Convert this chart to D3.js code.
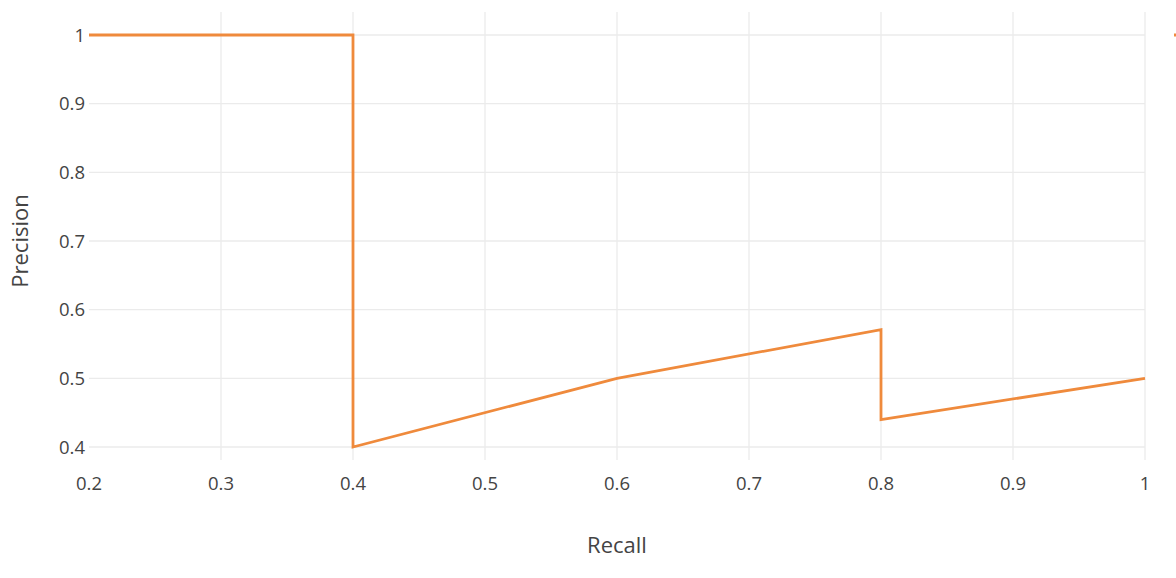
<!DOCTYPE html>
<html><head><meta charset="utf-8">
<script src="https://cdn.jsdelivr.net/npm/d3@7"></script>
<style>body{margin:0;background:#fff;overflow:hidden}svg{display:block}text{font-family:"Open Sans",sans-serif;fill:#444}</style>
</head><body>
<svg id="c" width="1176" height="578"></svg>
<script>
const recall = [0.2, 0.4, 0.4, 0.6, 0.8, 0.8, 1.0];
const precision = [1, 1, 0.4, 0.5, 0.571, 0.44, 0.5];
const xTicks = [0.2, 0.3, 0.4, 0.5, 0.6, 0.7, 0.8, 0.9, 1];
const yTicks = [0.4, 0.5, 0.6, 0.7, 0.8, 0.9, 1];
const xLabel = "Recall", yLabel = "Precision";

const svg = d3.select("#c");
const L = 89, R = 1145;
const x = d3.scaleLinear().domain([0.2, 1]).range([L, R]);
const y = d3.scaleLinear().domain([0.4, 1]).range([447, 35]);
const plotTop = 12, plotBot = 460;

const g = svg.append("g");
g.selectAll(".vg").data(xTicks.slice(1)).join("line")
  .attr("x1", d => x(d)).attr("x2", d => x(d)).attr("y1", plotTop).attr("y2", plotBot)
  .attr("stroke", "#ebebeb").attr("stroke-width", 1.3);
g.selectAll(".hg").data(yTicks).join("line")
  .attr("x1", L).attr("x2", R).attr("y1", d => y(d)).attr("y2", d => y(d))
  .attr("stroke", "#ebebeb").attr("stroke-width", 1.3);

g.selectAll(".xt").data(xTicks).join("text")
  .attr("x", d => x(d)).attr("y", 490).attr("text-anchor", "middle")
  .attr("font-size", 18.5).text(d => d3.format("~g")(d));
g.selectAll(".yt").data(yTicks).join("text")
  .attr("x", 85).attr("y", d => y(d) + 6.5).attr("text-anchor", "end")
  .attr("font-size", 18.5).text(d => d3.format("~g")(d));

svg.append("text").attr("x", 617).attr("y", 553).attr("text-anchor", "middle")
  .attr("font-size", 22).text(xLabel);
svg.append("text").attr("transform", "translate(28,241) rotate(-90)").attr("text-anchor", "middle")
  .attr("font-size", 22).text(yLabel);

const line = d3.line().x((d, i) => x(recall[i])).y((d, i) => y(precision[i]));
svg.append("path").datum(precision).attr("d", line).attr("fill", "none")
  .attr("stroke", "#ef8a3c").attr("stroke-width", 2.8).attr("stroke-linejoin", "miter");

// legend (mostly off-screen)
svg.append("line").attr("x1", 1174).attr("x2", 1214).attr("y1", 35).attr("y2", 35)
  .attr("stroke", "#ef8a3c").attr("stroke-width", 2.8);
</script>
</body></html>
